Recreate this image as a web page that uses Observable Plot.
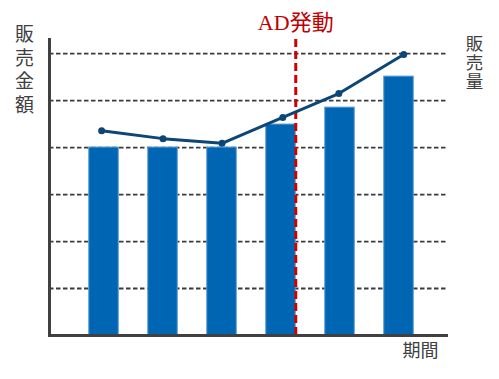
<!DOCTYPE html>
<html>
<head>
<meta charset="utf-8">
<script src="https://cdn.jsdelivr.net/npm/d3@7"></script>
<script src="https://cdn.jsdelivr.net/npm/@observablehq/plot@0.6"></script>
<style>
  html, body { margin: 0; padding: 0; background: #fff; }
</style>
</head>
<body>
<div id="chart"></div>
<script>
// Data (values in gridline units; 6 dashed gridlines)
const periods = [1, 2, 3, 4, 5, 6];
const salesAmount = [4.0, 4.0, 4.0, 4.49, 4.85, 5.51];      // bars (販売金額)
const linePositions = [0.96, 2.0, 3.0, 4.03, 4.98, 6.08];   // x of line points
const salesVolume = [4.36, 4.19, 4.09, 4.64, 5.15, 5.98];    // line (販売量)
const gridValues = [1, 2, 3, 4, 5, 6];
const adPosition = [4.25];
const adLabel = "AD発動";
const leftLabel = "販売金額";
const rightLabel = "販売量";
const xLabel = "期間";

const bars = periods.map((p, i) => ({p, v: salesAmount[i]}));
const pts = linePositions.map((p, i) => ({p, v: salesVolume[i]}));

const cjk = "'Noto Sans CJK JP', 'Noto Sans', sans-serif";
const axisColor = "#404040";

const chart = Plot.plot({
  width: 499,
  height: 379,
  marginLeft: 49,
  marginRight: 51,
  marginTop: 39,
  marginBottom: 44,
  x: {type: "linear", domain: [0.076, 6.839], axis: null},
  y: {domain: [0, 6.3], axis: null},
  marks: [
    Plot.ruleY(gridValues, {stroke: "#3a3a3a", strokeWidth: 1.8, strokeDasharray: "4.5,2.5"}),
    Plot.rectY(bars, {x1: d => d.p - 0.25, x2: d => d.p + 0.25, y1: 0, y2: "v",
      fill: "#0066B3", stroke: "#5B9BD5", strokeWidth: 1}),
    Plot.ruleX(adPosition, {stroke: "#D00000", strokeWidth: 3, strokeDasharray: "8,4"}),
    Plot.line(pts, {x: "p", y: "v", stroke: "#0B4677", strokeWidth: 3}),
    Plot.dot(pts, {x: "p", y: "v", r: 3.5, fill: "#0B4677"}),
    Plot.ruleY([0], {stroke: axisColor, strokeWidth: 3}),
    Plot.frame({anchor: "left", stroke: axisColor, strokeWidth: 3}),
    Plot.text([leftLabel.split("").join("\n")], {
      frameAnchor: "top-left", textAnchor: "middle", lineAnchor: "top",
      dx: -25, dy: -15, fontSize: 19, lineHeight: 1.24,
      fill: axisColor, fontFamily: cjk
    }),
    Plot.text([rightLabel.split("").join("\n")], {
      frameAnchor: "top-right", textAnchor: "middle", lineAnchor: "top",
      dx: 26, dy: -3, fontSize: 17.5, lineHeight: 1.08,
      fill: axisColor, fontFamily: cjk
    }),
    Plot.text(adPosition, {
      x: d => d, text: () => adLabel, frameAnchor: "top", lineAnchor: "bottom",
      dy: -10, fontSize: 22, fill: "#C00000",
      fontFamily: "'Liberation Serif', 'Noto Sans CJK JP', serif"
    }),
    Plot.text([xLabel], {
      frameAnchor: "bottom-right", textAnchor: "middle", lineAnchor: "top",
      dx: -28, dy: 9, fontSize: 18, fill: axisColor, fontFamily: cjk
    })
  ]
});
document.getElementById("chart").appendChild(chart);
</script>
</body>
</html>
